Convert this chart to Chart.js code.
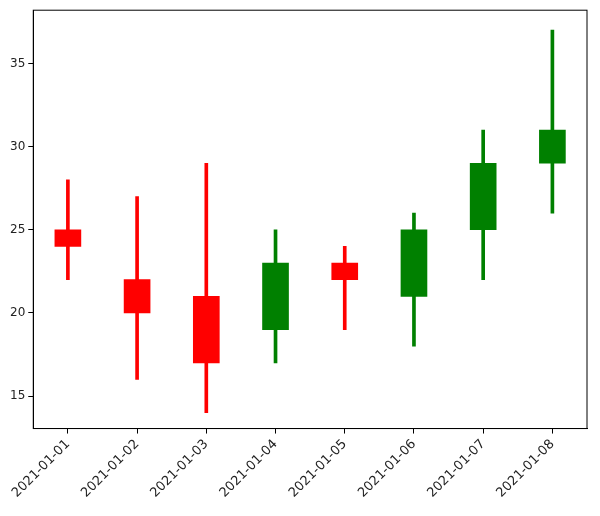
<!DOCTYPE html>
<html><head><script src="https://cdn.jsdelivr.net/npm/chart.js@4"></script>
<style>body{margin:0;background:#fff}#w{width:600px;height:516px}</style></head>
<body><div id="w"><canvas id="c"></canvas></div>
<script>
const dates=['2021-01-01','2021-01-02','2021-01-03','2021-01-04','2021-01-05','2021-01-06','2021-01-07','2021-01-08'];
const opens=[25,22,21,19,23,21,25,29];
const closes=[24,20,17,23,22,25,29,31];
const lows=[22,16,14,17,19,18,22,26];
const highs=[28,27,29,25,24,26,31,37];
const yTicks=[15,20,25,30,35];
const colors=opens.map((o,i)=>closes[i]>=o?'green':'red');
const frame={id:'frame',afterDraw(c){const a=c.chartArea,x=c.ctx;x.save();x.strokeStyle='#000';x.lineWidth=1;x.strokeRect(a.left,a.top,a.right-a.left,a.bottom-a.top);x.restore();}};
new Chart(document.getElementById('c'),{type:'bar',
data:{labels:dates,datasets:[
{data:lows.map((l,i)=>[l,highs[i]]),backgroundColor:colors,barThickness:3,grouped:false,order:2},
{data:opens.map((o,i)=>[o,closes[i]]),backgroundColor:colors,barThickness:26,grouped:false,order:1}
]},
plugins:[frame],
options:{responsive:true,maintainAspectRatio:false,animation:false,
layout:{padding:{top:0,right:13,left:7,bottom:12}},
plugins:{legend:{display:false},tooltip:{enabled:false}},
scales:{
x:{offset:true,grid:{display:true,offset:false,drawOnChartArea:false,tickLength:5,color:'#000'},border:{color:'#000'},
ticks:{minRotation:45,maxRotation:45,color:'#222',font:{family:'DejaVu Sans',size:13}}},
y:{min:13.05,max:38.2,afterBuildTicks(a){a.ticks=yTicks.map(v=>({value:v}));},
grid:{display:true,drawOnChartArea:false,tickLength:5,color:'#000'},border:{color:'#000'},
ticks:{color:'#222',font:{family:'DejaVu Sans',size:12}}}
}}});
</script></body></html>
